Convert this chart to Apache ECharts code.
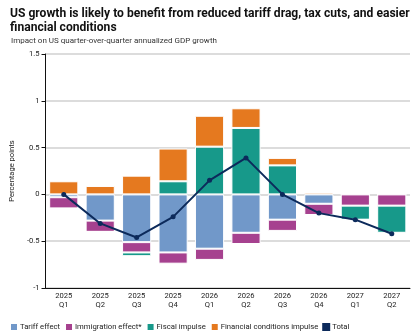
<!DOCTYPE html>
<html><head><meta charset="utf-8">
<script src="https://cdn.jsdelivr.net/npm/echarts@6/dist/echarts.min.js"></script>
<style>html,body{margin:0;padding:0;background:#fff}#c{width:420px;height:331px}</style>
</head><body><div id="c"></div>
<script>
const categories = ['2025\nQ1','2025\nQ2','2025\nQ3','2025\nQ4','2026\nQ1','2026\nQ2','2026\nQ3','2026\nQ4','2027\nQ1','2027\nQ2'];
const tariffEffect = [-0.03,-0.28,-0.51,-0.62,-0.58,-0.41,-0.27,-0.10,0,0];
const immigrationEffect = [-0.12,-0.12,-0.11,-0.12,-0.12,-0.12,-0.12,-0.12,-0.12,-0.12];
const fiscalImpulse = [0,0,-0.04,0.14,0.51,0.71,0.31,0,-0.15,-0.29];
const financialImpulse = [0.14,0.09,0.20,0.35,0.33,0.21,0.08,0.02,0,-0.01];
const total = [0.0,-0.31,-0.46,-0.24,0.15,0.39,0.0,-0.20,-0.27,-0.42];
const yTicks = [-1,-0.5,0,0.5,1,1.5];
const titleLine1 = 'US growth is likely to benefit from reduced tariff drag, tax cuts, and easier';
const titleLine2 = 'financial conditions';
const subtitle = 'Impact on US quarter-over-quarter annualized GDP growth';

const font = 'Roboto, "Liberation Sans", sans-serif';
const ctx = document.createElement('canvas').getContext('2d');
function fit(text, weight, target){
  ctx.font = weight + ' 100px ' + font;
  const w = ctx.measureText(text).width;
  return Math.round(100 * target / w * 10) / 10;
}
const titleSize = Math.min(14, fit(titleLine1, 'bold', 401));
const subSize = Math.min(10, fit(subtitle, 'normal', 205));
const legendSize = Math.min(10, fit('Tariff effect', 'normal', 40));
const axisSize = Math.min(10, fit('2025', 'normal', 17));

const chart = echarts.init(document.getElementById('c'), null, {renderer:'canvas'});
function barSeries(name, data, color){
  return {name, type:'bar', stack:'s', data, barWidth:'80%',
    itemStyle:{color, borderColor:'#fff', borderWidth:1}, z:2};
}
chart.setOption({
  animation:false,
  textStyle:{fontFamily:font},
  title:[
    {text:titleLine1 + '\n' + titleLine2, left:5, top:2,
     textStyle:{fontFamily:font, fontSize:titleSize, fontWeight:'bold', color:'#111', lineHeight:14}},
    {text:subtitle, left:6, top:32,
     textStyle:{fontFamily:font, fontSize:subSize, fontWeight:'normal', color:'#333'}}
  ],
  legend:{left:4, top:317, icon:'rect', itemWidth:8, itemHeight:8, itemGap:4,
    textStyle:{fontFamily:font, fontSize:legendSize, color:'#222', padding:[0,0,0,-3]},
    data:['Tariff effect','Immigration effect*','Fiscal impulse','Financial conditions impulse','Total']},
  grid:{left:44, right:10, top:54, bottom:43},
  xAxis:{type:'category', data:categories,
    axisLine:{onZero:false, lineStyle:{color:'#111', width:1}},
    axisTick:{alignWithLabel:true, length:4, lineStyle:{color:'#111'}},
    axisLabel:{fontFamily:font, fontSize:axisSize, color:'#222', lineHeight:9, margin:4}},
  yAxis:{type:'value', min:-1, max:1.5, interval:0.5,
    name:'Percentage points', nameLocation:'middle', nameGap:21,
    nameTextStyle:{fontFamily:font, fontSize:axisSize, color:'#222'},
    axisLine:{show:true, lineStyle:{color:'#111'}},
    axisTick:{show:true, length:4, lineStyle:{color:'#111'}},
    axisLabel:{fontFamily:font, fontSize:axisSize, color:'#222', margin:6,
      formatter:v=> yTicks.includes(v) ? String(v) : ''},
    splitLine:{lineStyle:{color:'#dcdcdc', width:2}}},
  series:[
    barSeries('Tariff effect', tariffEffect, '#7198c9'),
    barSeries('Immigration effect*', immigrationEffect, '#a6418f'),
    barSeries('Fiscal impulse', fiscalImpulse, '#17998a'),
    barSeries('Financial conditions impulse', financialImpulse, '#e5791f'),
    {name:'Total', type:'line', data:total, z:5, symbol:'circle', symbolSize:5,
     lineStyle:{color:'#0c2a5b', width:2}, itemStyle:{color:'#0c2a5b'}}
  ]
});
</script></body></html>
